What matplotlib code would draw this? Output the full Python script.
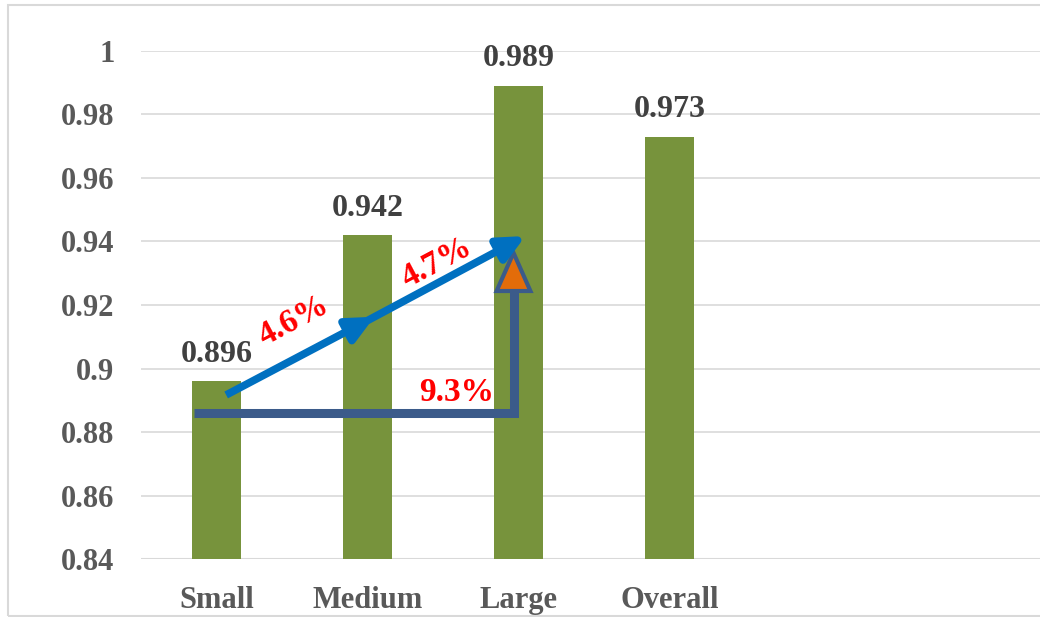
import matplotlib
matplotlib.use("Agg")
import matplotlib.pyplot as plt
from matplotlib.patches import FancyArrowPatch, Polygon, Rectangle

# data
categories = ["Small", "Medium", "Large", "Overall", "", ""]
values = [0.896, 0.942, 0.989, 0.973]
y_ticks = [0.84, 0.86, 0.88, 0.9, 0.92, 0.94, 0.96, 0.98, 1.0]
y_tick_labels = ["0.84", "0.86", "0.88", "0.9", "0.92", "0.94", "0.96", "0.98", "1"]

# annotation arrows (data units)
gain_segments = [((0.064, 0.8917), (1.046, 0.9163)),
                 ((1.00, 0.9151), (2.046, 0.9417))]
gain_labels = ["4.6%", "4.7%"]
gain_label_pos = [(0.51, 0.9150), (1.46, 0.9332)]
bracket = [(-0.146, 0.8859), (1.967, 0.8859), (1.967, 0.9244)]
bracket_tip = 0.9364
total_label = "9.3%"
total_label_pos = (1.59, 0.8925)

plt.rcParams['font.family'] = ['Liberation Serif', 'DejaVu Serif']
plt.rcParams['font.weight'] = 'bold'

fig = plt.figure(figsize=(10.4, 6.17), dpi=100)
ax = fig.add_axes([141 / 1040, 57.7 / 617, 906 / 1040, 508.6 / 617])

bar_green = "#77933C"
ax.bar(range(len(values)), values, width=0.32, color=bar_green, zorder=2)

ax.set_xlim(-0.5, len(categories) - 0.5)
ax.set_ylim(0.84, 1.0)
ax.set_xticks(range(len(categories)))
ax.set_xticklabels(categories)
ax.set_yticks(y_ticks)
ax.set_yticklabels(y_tick_labels)
ax.tick_params(axis='both', length=0, labelsize=22, labelcolor="#595959")
ax.tick_params(axis='y', pad=19)
ax.tick_params(axis='x', pad=19)
ax.grid(axis='y', color="#D9D9D9", linewidth=1.2, zorder=0)
for s in ax.spines.values():
    s.set_visible(False)
ax.axhline(0.84, color="#D9D9D9", linewidth=1.5, zorder=1)

for i, v in enumerate(values):
    ax.annotate(f"{v:.3f}", (i, v), xytext=(0, 9), textcoords="offset points",
                ha='center', va='bottom', fontsize=23, fontweight='bold', color="#404040")

# blue arrows
blue = "#0070C0"
for a, b in gain_segments:
    arr = FancyArrowPatch(a, b, arrowstyle='-|>,head_length=0.8,head_width=0.38',
                          mutation_scale=20, color=blue, linewidth=5.5,
                          shrinkA=0, shrinkB=0, zorder=5, capstyle='butt')
    ax.add_patch(arr)
for lab, (x, y) in zip(gain_labels, gain_label_pos):
    ax.text(x, y, lab, rotation=28, ha='center', va='center', fontsize=24,
            fontweight='bold', color="red", rotation_mode='anchor', zorder=6)

# dark blue bracket with orange triangle
dark = "#3B5B8A"
bx = [p[0] for p in bracket]
by = [p[1] for p in bracket]
ax.plot(bx, by, color=dark, linewidth=6.5, solid_joinstyle='miter', solid_capstyle='butt', zorder=4)
tri = Polygon([(bx[-1] - 0.112, by[-1]), (bx[-1] + 0.112, by[-1]), (bx[-1], bracket_tip)],
              closed=True, facecolor="#E36C09", edgecolor=dark, linewidth=3, zorder=4,
              joinstyle='miter')
ax.add_patch(tri)
ax.text(*total_label_pos, total_label, ha='center', va='center', fontsize=24,
        fontweight='bold', color="red", zorder=6)

# outer chart border
fig.patches.append(Rectangle((8 / 1040, 1 / 617), 1.2, 611 / 617, transform=fig.transFigure,
                             fill=False, edgecolor="#D9D9D9", linewidth=1.5))

fig.savefig("out.png", dpi=100)
